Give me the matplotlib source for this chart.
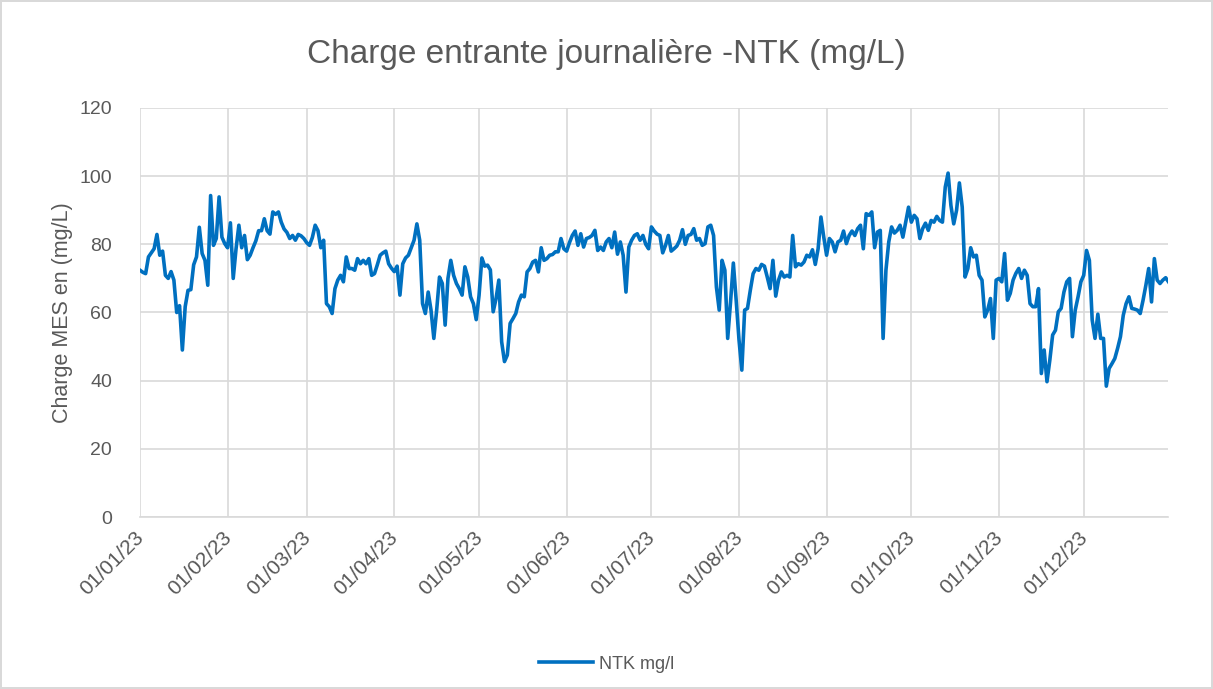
import pandas as pd
import matplotlib
matplotlib.use("Agg")
import matplotlib.pyplot as plt
import matplotlib.dates as mdates
from matplotlib.transforms import ScaledTranslation

# daily NTK values (mg/l), one per day of 2023
jan = [72.4, 71.8, 71.4, 76.3, 77.5, 78.7, 82.9, 76.8, 78, 70.9, 70, 72, 69.5, 60, 62, 49,
       61.7, 66.5, 66.7, 74, 76.3, 85, 77.3, 75.3, 68, 94.3, 79.7, 81.7, 93.9, 82.1, 80.2]
feb = [79, 86.3, 70, 78.7, 85.6, 79, 82.6, 75.5, 76.8, 79, 81, 84, 84, 87.5, 84, 83, 89.5,
       88.8, 89.5, 86.5, 84.5, 83.5, 81.7, 82.6, 81.2, 82.9, 82.5, 81.7]
mar = [80.5, 79.7, 82, 85.6, 84, 79, 81.2, 62.6, 61.7, 59.7, 67, 69.5, 70.9, 69, 76.3, 72.9,
       72.9, 72.4, 75.8, 74.3, 75.3, 74.3, 75.8, 70.9, 71.4, 74, 76.8, 77.5, 78, 74.3, 73]
apr = [72, 73.6, 65.1, 74.3, 76, 76.8, 79, 81.2, 86, 81.2, 62.6, 59.7, 66, 60.7, 52.4, 60.7,
       70.4, 68.5, 56.3, 70, 75.3, 70.9, 68.5, 67, 65.1, 73.4, 70.4, 64.6, 62.6, 57.9]
may = [65, 76, 73.6, 73.9, 72.5, 60.2, 64, 69.5, 51.4, 45.6, 47.5, 56.8, 58.2, 59.7, 63.1,
       65.1, 64.6, 71.9, 72.9, 74.8, 75.3, 71.9, 79, 75.3, 75.8, 76.8, 77, 77.8, 77.8, 81.7, 78.7]
jun = [78, 80.5, 82.6, 83.9, 79.7, 83.1, 79.2, 81.7, 82, 82.6, 84.1, 78.2, 79.2, 78.2, 80.7,
       81.7, 79, 83.6, 77.1, 80.7, 76.8, 66, 79.2, 81.2, 82.6, 83.1, 81.2, 82.6, 80, 78.7]
jul = [85.1, 83.9, 83, 82.6, 77.5, 79.7, 82.6, 78, 78.7, 79.5, 81.2, 84.3, 80, 82.6, 82.9,
       84.6, 81.2, 81.7, 79.7, 80.2, 85.1, 85.6, 82.6, 67.5, 60.7, 75.3, 72.4, 52.4, 63, 74.5, 63.6]
aug = [52, 43.1, 60.7, 61.2, 66.5, 71.4, 72.9, 72.4, 74.1, 73.6, 70.4, 67, 75.3, 64.8, 69.5,
       71.9, 70.4, 70.9, 70.4, 82.6, 73.4, 74.3, 73.9, 74.8, 76.8, 76.3, 78.4, 74.1, 78.7, 88, 82.1]
sep = [76.8, 81.7, 80.7, 77.8, 80.7, 81.2, 83.9, 80.2, 82.6, 83.9, 82.6, 84.6, 85.6, 78.7,
       89, 88.5, 89.5, 79, 83.6, 84.1, 52.4, 72.4, 80.7, 85.1, 83.3, 84.1, 85.6, 82.1, 86.5, 90.9]
oct_ = [86.5, 88.5, 87.5, 81.7, 84.6, 86.2, 84.1, 87, 86.5, 88.2, 87, 86.5, 96.8, 100.9, 91.4,
        86, 90, 98, 90.9, 70.4, 72.9, 79, 76.3, 76.8, 70.9, 69.5, 58.7, 60.7, 64.1, 52.4, 69.5]
nov = [70, 69, 77.3, 63.6, 65.6, 69.5, 71.5, 72.9, 70, 72.4, 70.9, 62.6, 61.7, 61.7, 67,
       42.1, 49, 39.7, 46, 53.4, 54.8, 60.2, 61.2, 66, 69, 70, 52.9, 60.7, 64.6, 69]
dec = [70.9, 78.2, 75.3, 57.8, 52.4, 59.5, 52.4, 52.4, 38.4, 43.6, 45, 46.5, 49.5, 52.9, 59.2,
       62.6, 64.6, 61.2, 61, 60.7, 59.7, 63.6, 68, 72.9, 63.1, 75.8, 69.5, 68.5, 69.5, 70.2, 69]

ntk = jan + feb + mar + apr + may + jun + jul + aug + sep + oct_ + nov + dec
dates = pd.date_range("2023-01-01", periods=len(ntk), freq="D")

grey = "#595959"
plt.rcParams["font.family"] = ["Liberation Sans", "DejaVu Sans"]

fig = plt.figure(figsize=(12.13, 6.89), dpi=100)
fig.patch.set_edgecolor("#D9D9D9")
fig.patch.set_linewidth(1.5)
ax = fig.add_axes([0.1154, 0.2496, 0.8479, 0.5937])

ax.plot(dates, ntk, color="#0070C0", lw=2.6, label="NTK mg/l", solid_joinstyle="round")

ax.set_xlim(pd.Timestamp("2023-01-01"), pd.Timestamp("2023-12-31"))
ax.set_ylim(0, 120)
ax.set_yticks(range(0, 121, 20))
ax.xaxis.set_major_locator(mdates.MonthLocator())
ax.xaxis.set_major_formatter(mdates.DateFormatter("%d/%m/%y"))

ax.grid(True, color="#D9D9D9", lw=1.2)
ax.set_axisbelow(True)
for s in ["top", "right", "left"]:
    ax.spines[s].set_visible(False)
ax.spines["bottom"].set_color("#D9D9D9")
ax.spines["bottom"].set_linewidth(1.2)
ax.tick_params(axis="both", colors=grey, labelsize=14, length=0)
ax.tick_params(axis="x", pad=8, labelsize=15)
ax.tick_params(axis="y", pad=20)

shift = ScaledTranslation(-6 / 100, 0, fig.dpi_scale_trans)
for lab in ax.get_xticklabels():
    lab.set_rotation(45)
    lab.set_ha("right")
    lab.set_rotation_mode("anchor")
    lab.set_transform(lab.get_transform() + shift)

fig.text(0.5, 1 - 55 / 689, "Charge entrante journalière -NTK (mg/L)", fontsize=24,
         color=grey, ha="center", va="center")
ax.set_ylabel("Charge MES en (mg/L)", fontsize=15.5, color=grey, labelpad=5)

fig.legend(loc="lower center", bbox_to_anchor=(0.5, 0.0), frameon=False, fontsize=13,
           labelcolor=grey, handlelength=3.0, handletextpad=0.3)

fig.savefig("out.png", dpi=100)
